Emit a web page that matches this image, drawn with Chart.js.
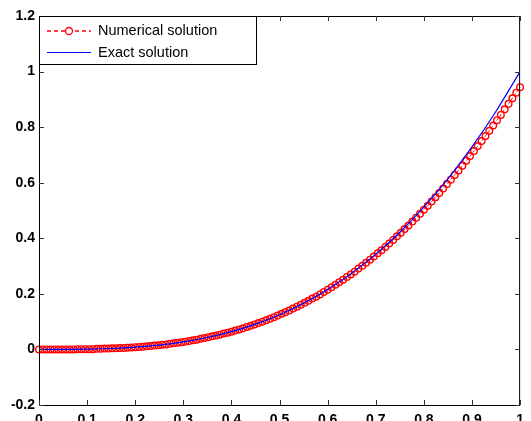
<!DOCTYPE html>
<html>
<head>
<meta charset="utf-8">
<script src="https://cdn.jsdelivr.net/npm/chart.js@4.4.1/dist/chart.umd.min.js"></script>
<style>
    html, body { margin: 0; padding: 0; overflow: hidden; background: #ffffff; }
    #wrap { width: 531px; height: 440px; }
</style>
</head>
<body>
<div id="wrap"><canvas id="chart" width="531" height="440"></canvas></div>
<script>
// numerical solution (red circles, dashed)
const xNumerical = [
    0.000, 0.008, 0.016, 0.024, 0.032, 0.040, 0.048, 0.056, 0.064, 0.072,
    0.080, 0.088, 0.096, 0.104, 0.112, 0.120, 0.128, 0.136, 0.144, 0.152,
    0.160, 0.168, 0.176, 0.184, 0.192, 0.200, 0.208, 0.216, 0.224, 0.232,
    0.240, 0.248, 0.256, 0.264, 0.272, 0.280, 0.288, 0.296, 0.304, 0.312,
    0.320, 0.328, 0.336, 0.344, 0.352, 0.360, 0.368, 0.376, 0.384, 0.392,
    0.400, 0.408, 0.416, 0.424, 0.432, 0.440, 0.448, 0.456, 0.464, 0.472,
    0.480, 0.488, 0.496, 0.504, 0.512, 0.520, 0.528, 0.536, 0.544, 0.552,
    0.560, 0.568, 0.576, 0.584, 0.592, 0.600, 0.608, 0.616, 0.624, 0.632,
    0.640, 0.648, 0.656, 0.664, 0.672, 0.680, 0.688, 0.696, 0.704, 0.712,
    0.720, 0.728, 0.736, 0.744, 0.752, 0.760, 0.768, 0.776, 0.784, 0.792,
    0.800, 0.808, 0.816, 0.824, 0.832, 0.840, 0.848, 0.856, 0.864, 0.872,
    0.880, 0.888, 0.896, 0.904, 0.912, 0.920, 0.928, 0.936, 0.944, 0.952,
    0.960, 0.968, 0.976, 0.984, 0.992, 1.000
];
const yNumerical = [
    0.000, 0.000, 0.000, 0.000, 0.000, 0.000, 0.000, 0.000, 0.000, 0.000,
    0.001, 0.001, 0.001, 0.001, 0.001, 0.002, 0.002, 0.003, 0.003, 0.004,
    0.004, 0.005, 0.005, 0.006, 0.007, 0.008, 0.009, 0.010, 0.011, 0.012,
    0.014, 0.015, 0.017, 0.018, 0.020, 0.022, 0.024, 0.026, 0.028, 0.030,
    0.033, 0.035, 0.038, 0.041, 0.044, 0.047, 0.050, 0.053, 0.057, 0.060,
    0.064, 0.068, 0.072, 0.076, 0.081, 0.085, 0.090, 0.095, 0.100, 0.105,
    0.110, 0.116, 0.122, 0.128, 0.134, 0.140, 0.147, 0.154, 0.161, 0.168,
    0.175, 0.183, 0.190, 0.198, 0.207, 0.215, 0.224, 0.233, 0.242, 0.251,
    0.261, 0.270, 0.280, 0.291, 0.301, 0.312, 0.323, 0.334, 0.346, 0.357,
    0.369, 0.381, 0.394, 0.407, 0.420, 0.433, 0.446, 0.460, 0.474, 0.488,
    0.503, 0.517, 0.532, 0.548, 0.563, 0.579, 0.595, 0.611, 0.628, 0.644,
    0.661, 0.679, 0.696, 0.714, 0.732, 0.750, 0.768, 0.787, 0.806, 0.825,
    0.844, 0.864, 0.884, 0.904, 0.924, 0.944
];

// exact solution (blue line)
const xExact = [0, 0.05, 0.1, 0.15, 0.2, 0.25, 0.3, 0.35, 0.4, 0.45, 0.5,
                0.55, 0.6, 0.65, 0.7, 0.75, 0.8, 0.85, 0.9, 0.95, 1];
const yExact = [0, 0.000125, 0.001, 0.003375, 0.008, 0.015625, 0.027, 0.042875, 0.064, 0.091125, 0.125,
                0.166375, 0.216, 0.274625, 0.343, 0.421875, 0.512, 0.614125, 0.729, 0.857375, 1];

const xTickLabels = ['0', '0.1', '0.2', '0.3', '0.4', '0.5', '0.6', '0.7', '0.8', '0.9', '1'];
const yTickLabels = ['-0.2', '0', '0.2', '0.4', '0.6', '0.8', '1', '1.2'];
const seriesNames = ['Numerical solution', 'Exact solution'];

const RED = '#ff0000';
const BLUE = '#0000ff';

// matlab style box with inward ticks + legend box in the top-left corner
const matlabFrame = {
    id: 'matlabFrame',
    afterDraw(chart) {
        const ctx = chart.ctx;
        const a = chart.chartArea;
        const xs = chart.scales.x;
        const ys = chart.scales.y;
        ctx.save();
        ctx.strokeStyle = '#000000';
        ctx.lineWidth = 1;
        ctx.strokeRect(a.left + 0.5, a.top + 0.5, a.right - a.left - 1, a.bottom - a.top);

        ctx.strokeStyle = '#333333';
        ctx.beginPath();
        xs.ticks.forEach(t => {
            const px = Math.round(xs.getPixelForValue(t.value)) + 0.5;
            ctx.moveTo(px, a.bottom); ctx.lineTo(px, a.bottom - 5);
            ctx.moveTo(px, a.top); ctx.lineTo(px, a.top + 5);
        });
        ys.ticks.forEach(t => {
            const py = Math.round(ys.getPixelForValue(t.value)) + 0.5;
            ctx.moveTo(a.left, py); ctx.lineTo(a.left + 5, py);
            ctx.moveTo(a.right, py); ctx.lineTo(a.right - 5, py);
        });
        ctx.stroke();

        // legend
        const lx = a.left + 0.5, ly = a.top + 0.5, lw = 217, lh = 48;
        ctx.fillStyle = '#ffffff';
        ctx.fillRect(lx, ly, lw, lh);
        ctx.strokeStyle = '#000000';
        ctx.strokeRect(lx, ly, lw, lh);

        const row1 = a.top + 15, row2 = a.top + 36.5;
        ctx.strokeStyle = RED;
        ctx.lineWidth = 1.3;
        ctx.setLineDash([4, 3]);
        ctx.beginPath();
        ctx.moveTo(a.left + 8, row1); ctx.lineTo(a.left + 52, row1);
        ctx.stroke();
        ctx.setLineDash([]);
        ctx.fillStyle = '#ffffff';
        ctx.beginPath();
        ctx.arc(a.left + 30, row1, 3.5, 0, Math.PI * 2);
        ctx.fill();
        ctx.stroke();

        ctx.lineWidth = 1;
        ctx.strokeStyle = BLUE;
        ctx.beginPath();
        ctx.moveTo(a.left + 8, row2); ctx.lineTo(a.left + 52, row2);
        ctx.stroke();

        ctx.fillStyle = '#000000';
        ctx.font = '14.5px "Liberation Sans", Arial, sans-serif';
        ctx.textBaseline = 'middle';
        ctx.textAlign = 'left';
        ctx.fillText(seriesNames[0], a.left + 59, row1);
        ctx.fillText(seriesNames[1], a.left + 59, row2);
        ctx.restore();
    }
};

new Chart(document.getElementById('chart'), {
    type: 'line',
    data: {
        datasets: [
            {
                label: seriesNames[0],
                data: xNumerical.map((x, i) => ({ x: x, y: yNumerical[i] })),
                borderColor: RED,
                borderWidth: 1,
                borderDash: [3, 2],
                pointStyle: 'circle',
                pointRadius: 3.3,
                pointBorderWidth: 1.4,
                pointBorderColor: RED,
                pointBackgroundColor: 'rgba(0, 0, 0, 0)',
                tension: 0,
                clip: false,
                order: 1
            },
            {
                label: seriesNames[1],
                data: xExact.map((x, i) => ({ x: x, y: yExact[i] })),
                borderColor: BLUE,
                borderWidth: 1.2,
                pointRadius: 0,
                cubicInterpolationMode: 'monotone',
                order: 0
            }
        ]
    },
    options: {
        responsive: false,
        animation: false,
        events: [],
        layout: { padding: { top: 16, right: 2, left: 0, bottom: 0 } },
        plugins: {
            legend: { display: false },
            tooltip: { enabled: false }
        },
        scales: {
            x: {
                type: 'linear',
                min: 0,
                max: 1,
                afterFit: scale => { scale.height = 35; },
                afterBuildTicks: scale => {
                    scale.ticks = xTickLabels.map(s => ({ value: parseFloat(s) }));
                },
                ticks: {
                    autoSkip: false,
                    maxRotation: 0,
                    padding: 7,
                    color: '#000000',
                    font: { family: '"Liberation Sans", Arial, sans-serif', size: 14, weight: 'bold' },
                    callback: (value, index) => xTickLabels[index]
                },
                grid: { display: false, drawTicks: false },
                border: { display: false }
            },
            y: {
                type: 'linear',
                min: -0.2,
                max: 1.2,
                afterFit: scale => { scale.width = 39; },
                afterBuildTicks: scale => {
                    scale.ticks = yTickLabels.map(s => ({ value: parseFloat(s) }));
                },
                ticks: {
                    autoSkip: false,
                    padding: 4,
                    color: '#000000',
                    font: { family: '"Liberation Sans", Arial, sans-serif', size: 14, weight: 'bold' },
                    callback: (value, index) => yTickLabels[index]
                },
                grid: { display: false, drawTicks: false },
                border: { display: false }
            }
        }
    },
    plugins: [matlabFrame]
});
</script>
</body>
</html>
